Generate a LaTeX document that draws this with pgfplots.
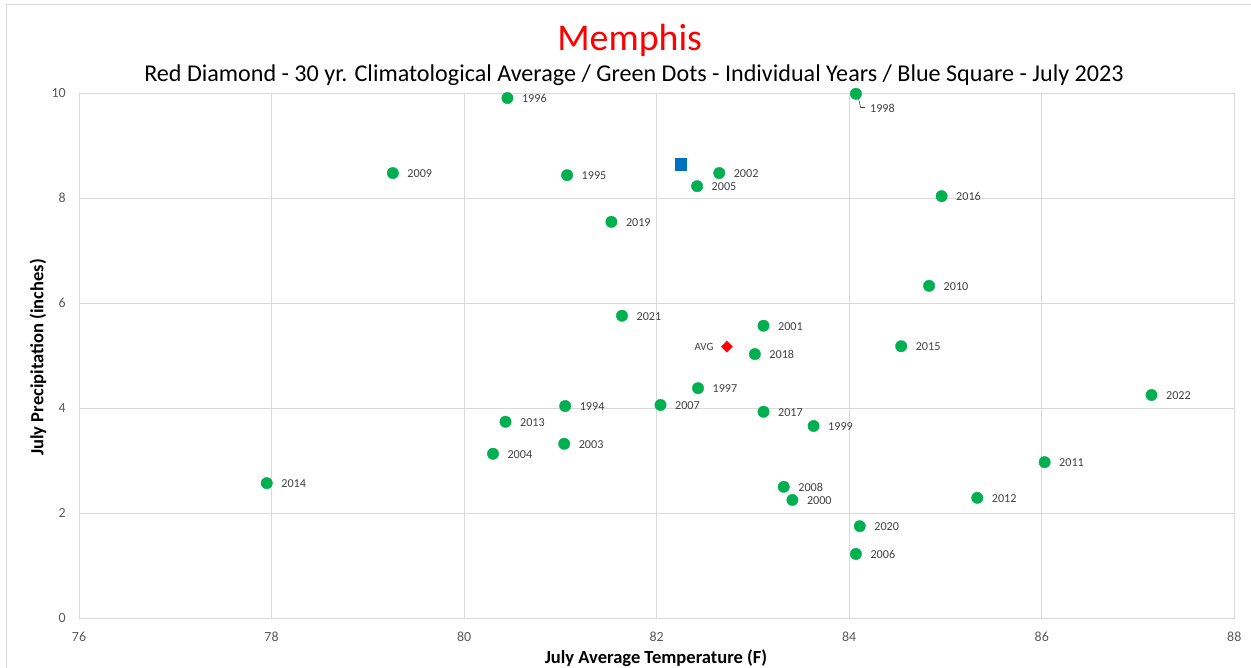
\documentclass[border=0pt]{standalone}
\usepackage{pgfplots}
\pgfplotsset{compat=1.18}
\usepackage{fontspec}
\setmainfont{Carlito}
\definecolor{gridc}{HTML}{D9D9D9}
\definecolor{framec}{HTML}{D9D9D9}
\definecolor{tickc}{HTML}{595959}
\definecolor{labc}{HTML}{404040}
\definecolor{xlgreen}{HTML}{00B050}
\definecolor{xlblue}{HTML}{0070C0}
\definecolor{xlred}{HTML}{FF0000}
\begin{document}
\begin{tikzpicture}
\useasboundingbox (0,0) rectangle (1251bp,668bp);
\draw[framec, line width=1bp] (6.7bp,0) -- (6.7bp,663bp) -- (1251bp,663bp);
\node[anchor=base, text=xlred, font=\fontsize{38}{38}\selectfont, inner sep=0] at (629.7bp,617.3bp) {Memphis};
\node[anchor=base, text=black, font=\fontsize{24.2}{24.2}\selectfont, inner sep=0] at (634bp,586bp) {Red Diamond - 30 yr. Climatological Average / Green Dots - Individual Years / Blue Square - July 2023};
\node[anchor=base, font=\bfseries\fontsize{18.6}{18.6}\selectfont, inner sep=0] at (656bp,4.7bp) {July Average Temperature (F)};
\node[rotate=90, anchor=center, font=\bfseries\fontsize{18.6}{18.6}\selectfont, inner sep=0] at (38bp,310.5bp) {July Precipitation (inches)};
\begin{axis}[
  at={(79bp,50bp)}, anchor=south west, scale only axis,
  width=1155.3bp, height=524.7bp,
  xmin=76, xmax=88, ymin=0, ymax=10,
  xtick={76,78,...,88}, ytick={0,2,...,10},
  grid=major, major grid style={draw=gridc, line width=0.75bp},
  axis line style={draw=gridc, line width=0.75bp},
  major tick length=0pt,
  tick label style={font=\fontsize{14}{14}\selectfont, text=tickc, inner sep=0pt},
  xticklabel style={anchor=north, yshift=-14bp},
  yticklabel style={anchor=east, xshift=-13bp},
  /pgf/number format/assume math mode=true,
  clip=false,
]
\addplot[only marks, mark=*, mark size=5.7bp, color=xlgreen,
  nodes near coords, point meta=explicit symbolic,
  nodes near coords style={anchor=west, xshift=14.4bp, yshift=-0.8bp, inner sep=0pt, text=labc, font=\fontsize{12.2}{12.2}\selectfont}]
  table[meta=label] {
x y label
80.45 9.91 1996
79.26 8.48 2009
81.07 8.44 1995
82.65 8.48 2002
82.42 8.23 2005
84.96 8.04 2016
81.53 7.55 2019
84.83 6.33 2010
81.64 5.76 2021
83.11 5.57 2001
83.02 5.03 2018
84.54 5.18 2015
82.43 4.38 1997
87.14 4.25 2022
81.05 4.04 1994
82.04 4.06 2007
83.11 3.93 2017
80.43 3.74 2013
83.63 3.66 1999
81.04 3.32 2003
80.30 3.13 2004
86.03 2.97 2011
77.95 2.57 2014
83.32 2.50 2008
83.41 2.25 2000
85.33 2.29 2012
84.11 1.75 2020
84.07 1.22 2006
};
\addplot[only marks, mark=*, mark size=5.7bp, color=xlgreen,
  nodes near coords, point meta=explicit symbolic,
  nodes near coords style={anchor=west, xshift=14bp, yshift=-15bp, inner sep=0pt, text=labc, font=\fontsize{12.2}{12.2}\selectfont}]
  table[meta=label] {
x y label
84.07 9.99 1998
};
\draw[labc, line width=0.6bp] ([xshift=2.3bp,yshift=-3.3bp]axis cs:84.07,9.99) -- ([xshift=4.7bp,yshift=-13.7bp]axis cs:84.07,9.99) -- ([xshift=9bp,yshift=-13.7bp]axis cs:84.07,9.99);
\addplot[only marks, mark=square*, mark size=5.8bp, color=xlblue] coordinates {(82.25,8.65)};
\addplot[only marks, mark=square*, mark size=3.9bp, mark options={rotate=45}, color=xlred,
  nodes near coords, point meta=explicit symbolic,
  nodes near coords style={anchor=east, xshift=-13.3bp, inner sep=0pt, text=labc, font=\fontsize{11}{11}\selectfont}]
  table[meta=label] {
x y label
82.73 5.17 AVG
};
\end{axis}
\end{tikzpicture}
\end{document}
